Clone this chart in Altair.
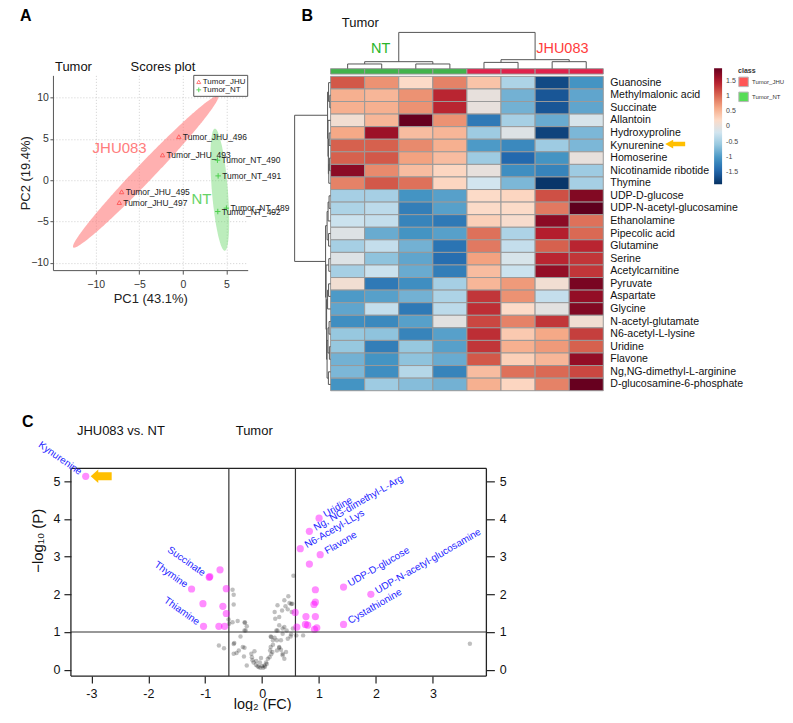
import math
import altair as alt
import pandas as pd

FONT = "Liberation Sans"

# ======================= Panel A : PCA scores plot =======================
pca_sample = ["Tumor_JHU_496", "Tumor_JHU_493", "Tumor_JHU_495", "Tumor_JHU_497",
              "Tumor_NT_490", "Tumor_NT_491", "Tumor_NT_489", "Tumor_NT_492"]
pca_group = ["Tumor_JHU"] * 4 + ["Tumor_NT"] * 4
pca_pc1 = [-0.46, -2.33, -7.02, -7.29, 3.97, 4.05, 5.00, 4.01]
pca_pc2 = [5.27, 3.06, -1.41, -2.71, 2.42, 0.52, -3.39, -3.80]
# confidence ellipses: ends of the major axis (data units) and half minor axis (px)
ell_group = ["Tumor_JHU", "Tumor_NT"]
ell_tip_a = [(-12.57, -8.15), (4.81, -8.55)]
ell_tip_b = [(4.04, 10.19), (3.67, 6.24)]
ell_half_minor = [9.0, 8.0]

# ======================= Panel B : heatmap =======================
metabolites = ["Guanosine", "Methylmalonic acid", "Succinate", "Allantoin", "Hydroxyproline",
               "Kynurenine", "Homoserine", "Nicotinamide ribotide", "Thymine", "UDP-D-glucose",
               "UDP-N-acetyl-glucosamine", "Ethanolamine", "Pipecolic acid", "Glutamine", "Serine",
               "Acetylcarnitine", "Pyruvate", "Aspartate", "Glycine", "N-acetyl-glutamate",
               "N6-acetyl-L-lysine", "Uridine", "Flavone", "Ng,NG-dimethyl-L-arginine",
               "D-glucosamine-6-phosphate"]
heat_values = [
    [1.10, 0.75, 0.20, 0.85, 0.40, -0.45, -1.70, -1.05],
    [0.55, 0.50, 0.75, 1.40, 0.00, -0.80, -1.60, -0.90],
    [0.55, 0.55, 0.75, 1.40, 0.00, -0.80, -1.60, -0.90],
    [0.10, 0.50, 1.90, 0.75, -1.30, -0.50, -0.85, -0.15],
    [0.60, 1.60, 0.45, 0.50, -0.55, -0.10, -1.75, -0.75],
    [1.05, 1.05, 0.80, 0.55, -1.00, -1.15, -0.55, -0.75],
    [1.05, 1.10, 0.65, 0.45, -0.55, -1.45, -1.05, 0.00],
    [1.70, 0.80, 0.45, 0.25, 0.00, -1.10, -1.20, -0.55],
    [0.85, 1.10, 0.95, 0.25, -0.20, -0.75, -1.85, -0.50],
    [-0.50, -0.50, -1.05, -0.95, 0.20, 0.25, 1.15, 1.75],
    [-0.45, -0.35, -1.25, -0.95, 0.20, 0.20, 0.90, 1.95],
    [-0.25, -0.30, -1.20, -1.30, 0.30, 0.15, 1.70, 0.95],
    [-0.10, -0.85, -1.05, -0.95, 0.95, -0.45, 1.45, 1.00],
    [-0.50, -0.30, -0.80, -1.35, 0.90, -0.30, 1.05, 1.40],
    [-0.10, -0.65, -0.90, -1.40, 0.65, -0.15, 1.40, 1.30],
    [-0.50, -0.25, -0.85, -1.25, 0.45, -0.25, 1.65, 1.30],
    [0.10, -1.30, -1.10, -0.50, 0.50, 0.70, 0.10, 1.80],
    [-1.00, -0.95, -0.80, -0.45, 1.30, 0.75, -0.30, 1.65],
    [-0.90, -0.30, -1.30, -0.35, 1.35, 0.20, -0.05, 1.75],
    [-1.10, -1.15, -0.95, -0.05, 1.20, 0.85, 1.30, 0.10],
    [-0.60, -0.65, -1.20, -0.95, 1.35, 0.35, 0.60, 1.25],
    [-0.60, -1.25, -0.60, -0.95, 1.30, 0.55, 0.70, 1.05],
    [-0.80, -1.05, -0.65, -0.85, 1.10, 0.30, 0.50, 1.65],
    [-0.75, -1.10, -0.40, -1.20, 0.45, 0.95, 1.00, 1.20],
    [-1.05, -0.55, -0.70, -0.80, 0.55, 0.25, 0.85, 1.90],
]
sample_class = ["Tumor_NT"] * 4 + ["Tumor_JHU"] * 4
# dendrograms: (merge height, left, right); leaves are row / column indices
row_tree = (36.0,
            (3.0, (2.0, 0, (0.8, 1, 2)),
                  (2.6, 3, (2.2, (1.4, 4, 5), (1.8, (1.2, 6, 7), 8)))),
            (5.0, (3.5, (2.5, (1.5, 9, 10), 11), (2.0, 12, 13)),
                  (4.5, (1.8, 14, 15),
                        (4.0, (3.0, (2.0, 16, 17), 18),
                              (3.5, (2.6, (1.5, 19, 20), (1.2, 21, 22)), (2.2, 23, 24))))))
col_tree = (36.3, (7.0, (4.7, 0, 1), (4.7, 2, 3)), (9.0, (6.3, 4, 5), (7.0, 6, 7)))

# ======================= Panel C : volcano plot =======================
sig_x = [-3.10, -0.93, -0.92, -0.74, -1.24, -0.63, -1.04, -0.69, -0.63, -1.03, -0.76, -0.66,
         1.00, 0.83, 0.67, 1.02, 0.83, 1.43, 1.91, 1.43, 0.935, 0.935, 0.91, 0.935, 0.77,
         0.58, 0.61, 0.76, 0.80, 0.92, 0.96]
sig_y = [5.13, 2.45, 2.47, 2.65, 2.14, 2.15, 1.75, 1.68, 1.49, 1.15, 1.15, 1.15,
         4.02, 3.67, 3.21, 3.05, 2.80, 2.19, 2.00, 1.20, 2.12, 1.79, 1.73, 1.41, 1.41,
         1.52, 1.13, 1.20, 1.18, 1.07, 1.11]
sig_label = ["Kynurenine", "Succinate", "", "", "Thymine", "", "", "", "", "Thiamine", "", "",
             "Uridine", "Ng, NG-dimethyl-L-Arg", "N6-Acetyl-LLys", "Flavone", "",
             "UDP-D-glucose", "UDP-N-acetyl-glucosamine", "Cystathionine",
             "", "", "", "", "", "", "", "", "", "", ""]
ns_x = [-0.52, -0.50, -0.50, -0.59, -0.58, -0.43, -0.31, -0.27, -0.31, -0.38, -0.76, -0.67,
        -0.50, -0.50, -0.41, -0.34, -0.32, -0.27, -0.19, -0.18, -0.17, -0.15, -0.11, -0.06,
        -0.03, 0.00, 0.02, 0.04, -0.04, 0.07, -0.02, 0.10, 0.13, 0.16, 0.18, 0.15, 0.19,
        0.15, 0.22, 0.26, 0.30, 0.33, 0.26, 0.36, 0.39, 0.42, 0.45, 0.51, 0.27, 0.36, 0.39,
        0.30, 0.23, 0.30, 0.22, 0.27, 0.35, 0.41, 0.45, 0.48, 0.51, 0.39, 0.55, 0.46, 0.60,
        0.72, 3.65, -0.49, -0.45, -0.31, -0.135, -0.105, -0.52, -0.30, -0.29, 0.53, 0.52,
        0.43, 0.36, 0.25, 0.19, 0.14, 0.16, 0.30, 0.36, 0.33, 0.50, 0.54, 0.08, 0.05, -0.08]
ns_y = [2.12, 1.99, 1.73, 1.33, 1.22, 1.29, 1.25, 1.15, 1.04, 0.88, 0.64, 0.57,
        0.68, 0.42, 0.51, 0.60, 0.35, 0.11, 0.42, 0.33, 0.25, 0.19, 0.13, 0.07,
        0.05, 0.10, 0.05, 0.11, 0.19, 0.19, 0.31, 0.29, 0.33, 0.41, 0.47, 0.60, 0.66,
        0.88, 0.85, 0.78, 0.58, 0.53, 0.51, 0.38, 0.29, 0.47, 0.82, 0.94, 1.04, 1.09, 1.13,
        1.18, 1.35, 1.40, 1.53, 1.71, 1.57, 1.68, 1.60, 1.77, 1.74, 1.84, 2.49, 1.95, 0.91,
        0.91, 0.69, 0.71, 0.44, 0.58, 0.49, 0.23, 1.26, 1.25, 1.04, 1.75, 1.53,
        1.04, 0.95, 1.04, 0.78, 0.51, 0.87, 0.60, 0.42, 0.78, 0.88, 1.09, 0.15, 0.08, 0.09]
fc_cut = math.log2(1.5)
p_cut = 1.0

# ======================= layout constants =======================
A_W, A_H = 195, 195
A_X = [-14.9, 7.44]
A_Y = [-10.9, 12.7]
COL_PX, ROW_PX = 34.13, 12.59
B_W, B_H = 476, 316
B_X = [-36 / COL_PX, -36 / COL_PX + B_W / COL_PX]
B_Y = [-1 / ROW_PX, -1 / ROW_PX + B_H / ROW_PX]
C_BOX = [-3.36, 3.94]                 # x-range of the framed volcano box
C_BOX_W, C_H = 416, 208
C_INSET = 18                          # view starts this many px left of the box
C_PXU = C_BOX_W / (C_BOX[1] - C_BOX[0])
C_W = C_BOX_W + C_INSET
C_X = [C_BOX[0] - C_INSET / C_PXU, C_BOX[1]]
C_Y = [-0.17, 5.34]

MINUS_TO_HYPHEN = "replace(datum.label, '\u2212', '-')"
one = pd.DataFrame({"a": [0]})

# ---------------------------------------------------------------- Panel A
def ellipse_band(tip1, tip2, half_minor, sx, sy, n=160):
    x1, y1 = tip1[0] * sx, tip1[1] * sy
    x2, y2 = tip2[0] * sx, tip2[1] * sy
    cx, cy = (x1 + x2) / 2, (y1 + y2) / 2
    a = math.hypot(x2 - x1, y2 - y1) / 2
    b = half_minor
    th = math.atan2(y2 - y1, x2 - x1)
    c, s = math.cos(th), math.sin(th)
    ext = math.sqrt((a * c) ** 2 + (b * s) ** 2)
    qa = s * s / a ** 2 + c * c / b ** 2
    out = []
    for k in range(n + 1):
        dx = -math.cos(math.pi * k / n) * ext
        qb = 2 * dx * c * s * (1 / a ** 2 - 1 / b ** 2)
        qc = dx * dx * (c * c / a ** 2 + s * s / b ** 2) - 1
        r = math.sqrt(max(qb * qb - 4 * qa * qc, 0.0))
        out.append(((cx + dx) / sx, (cy + (-qb - r) / (2 * qa)) / sy, (cy + (-qb + r) / (2 * qa)) / sy))
    return out

SX = A_W / (A_X[1] - A_X[0])
SY = A_H / (A_Y[1] - A_Y[0])
ell_rows = []
for g, ta, tb, hm in zip(ell_group, ell_tip_a, ell_tip_b, ell_half_minor):
    for x, lo, hi in ellipse_band(ta, tb, hm, SX, SY):
        ell_rows.append({"group": g, "x": x, "lo": lo, "hi": hi})
ell_df = pd.DataFrame(ell_rows)
pca_df = pd.DataFrame({"sample": pca_sample, "group": pca_group, "pc1": pca_pc1, "pc2": pca_pc2})

ax_a_x = alt.Axis(values=[-10, -5, 0, 5], title="PC1 (43.1%)", grid=True, gridDash=[1, 2],
                  gridColor="#cfcfcf", domainColor="#555", tickColor="#555", tickSize=4,
                  labelFontSize=10.5, labelColor="#333", labelPadding=5, titleFontSize=13,
                  titleFontWeight="normal", titleColor="#222", titlePadding=3)
ax_a_y = alt.Axis(values=[-10, -5, 0, 5, 10], title="PC2 (19.4%)", grid=True, gridDash=[1, 2],
                  gridColor="#cfcfcf", domainColor="#555", tickColor="#555", tickSize=3,
                  labelFontSize=10.5, labelColor="#333", labelPadding=1.5, titleFontSize=13,
                  titleFontWeight="normal", titleColor="#222", titleX=-20, titleBaseline="bottom")
xa = alt.Scale(domain=A_X, nice=False, zero=False)
ya = alt.Scale(domain=A_Y, nice=False, zero=False)


def XA(f):
    return alt.X(f, scale=xa, axis=ax_a_x)


def YA(f):
    return alt.Y(f, scale=ya, axis=ax_a_y)


ell_jhu = alt.Chart(ell_df).transform_filter(alt.datum.group == "Tumor_JHU").mark_area(
    color="#ff6f6f", opacity=0.55).encode(x=XA("x:Q"), y=YA("lo:Q"), y2="hi:Q")
ell_nt = alt.Chart(ell_df).transform_filter(alt.datum.group == "Tumor_NT").mark_area(
    color="#5fd35f", opacity=0.42).encode(x=XA("x:Q"), y=YA("lo:Q"), y2="hi:Q")
PLUS = "M -1 0 L 1 0 M 0 -1 L 0 1"
JHU_RED, NT_GREEN = "#ff3b3b", "#1fc41f"
pts_jhu = alt.Chart(pca_df).transform_filter(alt.datum.group == "Tumor_JHU").mark_point(
    shape="triangle-up", filled=False, strokeWidth=1, size=20, color=JHU_RED).encode(
    x=XA("pc1:Q"), y=YA("pc2:Q"))
pts_nt = alt.Chart(pca_df).transform_filter(alt.datum.group == "Tumor_NT").mark_point(
    shape=PLUS, filled=False, strokeWidth=1, size=30, color=NT_GREEN).encode(
    x=XA("pc1:Q"), y=YA("pc2:Q"))
lbl_a = alt.Chart(pca_df).mark_text(align="left", baseline="middle", dx=4, fontSize=8.5, color="#222").encode(
    x=XA("pc1:Q"), y=YA("pc2:Q"), text="sample:N")
grp_jhu = alt.Chart(pd.DataFrame({"t": ["JHU083"]})).mark_text(
    align="left", baseline="middle", fontSize=15, color="#ff7d7d").encode(
    x=alt.datum(-10.35, scale=xa, axis=ax_a_x), y=alt.datum(3.85, scale=ya, axis=ax_a_y), text="t:N")
grp_nt = alt.Chart(pd.DataFrame({"t": ["NT"]})).mark_text(
    align="left", baseline="middle", fontSize=15, color="#66d366").encode(
    x=alt.datum(1.0, scale=xa, axis=ax_a_x), y=alt.datum(-2.3, scale=ya, axis=ax_a_y), text="t:N")
# legend box (top-right corner of the plot)
leg_box = alt.Chart(one).mark_rect(fill="white", stroke="#555", strokeWidth=1).encode(
    x=alt.value(141), x2=alt.value(195), y=alt.value(0), y2=alt.value(21))
leg_s1 = alt.Chart(one).mark_point(shape="triangle-up", filled=False, strokeWidth=1, size=16,
                                   color=JHU_RED).encode(x=alt.value(146), y=alt.value(6.5))
leg_s2 = alt.Chart(one).mark_point(shape=PLUS, filled=False, strokeWidth=1, size=22,
                                   color=NT_GREEN).encode(x=alt.value(146), y=alt.value(14.5))
leg_t1 = alt.Chart(one).mark_text(text="Tumor_JHU", align="left", baseline="middle", fontSize=8,
                                  color="#222").encode(x=alt.value(150), y=alt.value(6.5))
leg_t2 = alt.Chart(one).mark_text(text="Tumor_NT", align="left", baseline="middle", fontSize=8,
                                  color="#222").encode(x=alt.value(150), y=alt.value(14.5))
a_letter = alt.Chart(one).mark_text(text="A", fontSize=16, fontWeight="bold", align="left", baseline="top",
                                    color="black").encode(x=alt.value(-33), y=alt.value(-67))
a_t1 = alt.Chart(one).mark_text(text="Tumor", fontSize=13, align="left", baseline="top",
                                color="#111").encode(x=alt.value(2), y=alt.value(-14))
a_t2 = alt.Chart(one).mark_text(text="Scores plot", fontSize=13, align="left", baseline="top",
                                color="#111").encode(x=alt.value(77.7), y=alt.value(-14))
A_plot = alt.layer(ell_jhu, ell_nt, pts_jhu, pts_nt, lbl_a, grp_jhu, grp_nt,
                   leg_box, leg_s1, leg_s2, leg_t1, leg_t2, a_letter, a_t1, a_t2).properties(
    width=A_W, height=A_H)

# ---------------------------------------------------------------- Panel B
xb = alt.Scale(domain=B_X, nice=False, zero=False)
yb = alt.Scale(domain=B_Y, nice=False, zero=False, reverse=True)

cells = []
for r, name in enumerate(metabolites):
    for c, v in enumerate(heat_values[r]):
        cells.append({"metabolite": name, "r0": r, "r1": r + 1, "c0": c, "c1": c + 1, "value": v})
cell_df = pd.DataFrame(cells)
rdbu = ["#053061", "#2166ac", "#4393c3", "#92c5de", "#d1e5f0",
        "#fddbc7", "#f4a582", "#d6604d", "#b2182b", "#67001f"]
stops = [-1.9 + 3.8 * i / 9 for i in range(10)]

heat = alt.Chart(cell_df).mark_rect(stroke="#9a9a9a", strokeWidth=1).encode(
    x=alt.X("c0:Q", scale=xb, axis=None), x2="c1:Q",
    y=alt.Y("r0:Q", scale=yb, axis=None), y2="r1:Q",
    color=alt.Color("value:Q", scale=alt.Scale(domain=stops, range=rdbu, interpolate="rgb"),
                    legend=alt.Legend(title=None, orient="none", legendX=420, legendY=-7,
                                      direction="vertical", gradientLength=116,
                                      gradientThickness=8, gradientStrokeWidth=0,
                                      values=[-1.5, -1, -0.5, 0, 0.5, 1, 1.5],
                                      labelExpr="replace(format(datum.value, '.1~f'), '\u2212', '-')",
                                      labelFontSize=7, labelColor="#444", labelOffset=4, padding=0,
                                      labelOverlap=False)))

BAR_TOP = -(2.3 + 5.4) / ROW_PX
BAR_BOT = -2.3 / ROW_PX
class_df = pd.DataFrame({"col": list(range(8)), "class": sample_class})
class_df["c0"] = class_df["col"]
class_df["c1"] = class_df["col"] + 1
class_df["b0"] = BAR_TOP
class_df["b1"] = BAR_BOT
annot = alt.Chart(class_df).mark_rect(stroke="#9a9a9a", strokeWidth=1).encode(
    x=alt.X("c0:Q", scale=xb, axis=None), x2="c1:Q",
    y=alt.Y("b0:Q", scale=yb, axis=None), y2="b1:Q",
    fill=alt.Fill("class:N", scale=alt.Scale(domain=["Tumor_NT", "Tumor_JHU"], range=["#41b34b", "#e0224c"]),
                  legend=None))

dummy_df = pd.DataFrame({"class": ["Tumor_JHU", "Tumor_NT"], "r": [0.5, 1.5], "c": [0.5, 0.5]})
legend_dummy = alt.Chart(dummy_df).mark_square(size=8).encode(
    x=alt.X("c:Q", scale=xb, axis=None), y=alt.Y("r:Q", scale=yb, axis=None),
    color=alt.Color("class:N", scale=alt.Scale(domain=["Tumor_JHU", "Tumor_NT"], range=["#ff1010", "#10d010"]),
                    legend=alt.Legend(title="class", orient="none", legendX=444, legendY=-8,
                                      titleFontSize=7, titleFontWeight="bold", titleColor="#333",
                                      titlePadding=2, labelFontSize=6, labelColor="#333",
                                      symbolType="square", symbolSize=90, symbolStrokeColor="#999",
                                      symbolStrokeWidth=1, rowPadding=0, padding=0, labelOffset=3)))


def dendro(node, pos_of, segs):
    if isinstance(node, int):
        return pos_of(node), 0.0
    h, left, right = node
    pl, hl = dendro(left, pos_of, segs)
    pr, hr = dendro(right, pos_of, segs)
    segs.append((pl, hl, pl, h))
    segs.append((pr, hr, pr, h))
    segs.append((pl, h, pr, h))
    return (pl + pr) / 2, h


rsegs = []
dendro(row_tree, lambda i: i + 0.5, rsegs)
row_seg_df = pd.DataFrame([{"x": -h1 / COL_PX, "y": p1, "x2": -h2 / COL_PX, "y2": p2}
                           for p1, h1, p2, h2 in rsegs])
csegs = []
dendro(col_tree, lambda j: j + 0.5, csegs)
col_seg_df = pd.DataFrame([{"x": p1, "y": BAR_TOP - h1 / ROW_PX, "x2": p2, "y2": BAR_TOP - h2 / ROW_PX}
                           for p1, h1, p2, h2 in csegs])
row_dend = alt.Chart(row_seg_df).mark_rule(color="#555", strokeWidth=1).encode(
    x=alt.X("x:Q", scale=xb, axis=None), x2="x2:Q", y=alt.Y("y:Q", scale=yb, axis=None), y2="y2:Q")
col_dend = alt.Chart(col_seg_df).mark_rule(color="#555", strokeWidth=1).encode(
    x=alt.X("x:Q", scale=xb, axis=None), x2="x2:Q", y=alt.Y("y:Q", scale=yb, axis=None), y2="y2:Q")

lab_df = pd.DataFrame({"metabolite": metabolites, "pos": [i + 0.5 for i in range(len(metabolites))],
                       "edge": [8] * len(metabolites)})
row_lab = alt.Chart(lab_df).mark_text(align="left", baseline="middle", dx=7, fontSize=10.6, color="#111").encode(
    x=alt.X("edge:Q", scale=xb, axis=None), y=alt.Y("pos:Q", scale=yb, axis=None), text="metabolite:N")

ARROW_B = "M -1 0 L -0.2 -0.44 L -0.2 -0.22 L 1 -0.22 L 1 0.22 L -0.2 0.22 L -0.2 0.44 Z"
arrow_b = alt.Chart(lab_df).transform_filter(alt.datum.metabolite == "Kynurenine").mark_point(
    shape=ARROW_B, filled=True, color="#ffbf00", opacity=1, size=400, xOffset=72, yOffset=-1.5).encode(
    x=alt.X("edge:Q", scale=xb, axis=None), y=alt.Y("pos:Q", scale=yb, axis=None))

b_ann_df = pd.DataFrame({"t": ["Tumor"], "bx": [0.33], "by": [-4.7]})
b_tumor = alt.Chart(b_ann_df).mark_text(fontSize=13, align="left", baseline="top", color="#111").encode(
    x=alt.X("bx:Q", scale=xb, axis=None), y=alt.Y("by:Q", scale=yb, axis=None), text="t:N")
b_grp_df = pd.DataFrame({"t": ["NT", "JHU083"], "bx": [1.47, 6.8], "by": [-2.2, -2.2]})
b_grp = alt.Chart(b_grp_df).mark_text(fontSize=14.5, align="center", baseline="middle").encode(
    x=alt.X("bx:Q", scale=xb, axis=None), y=alt.Y("by:Q", scale=yb, axis=None), text="t:N",
    color=alt.Color("t:N", scale=alt.Scale(domain=["NT", "JHU083"], range=["#2ab52a", "#ff3c3c"]), legend=None))
b_letter = alt.Chart(one).mark_text(text="B", fontSize=16, fontWeight="bold", align="left", baseline="top",
                                    color="black").encode(x=alt.value(7), y=alt.value(-67))

B_plot = alt.layer(legend_dummy, heat, annot, row_dend, col_dend, row_lab, arrow_b,
                   b_tumor, b_grp, b_letter).resolve_scale(color="independent").properties(
    width=B_W, height=B_H)

# ---------------------------------------------------------------- Panel C
sig_df = pd.DataFrame({"fc": sig_x, "p": sig_y, "name": sig_label})
ns_df = pd.DataFrame({"fc": ns_x, "p": ns_y})

ax_c_x = alt.Axis(values=[-3, -2, -1, 0, 1, 2, 3], grid=False, domain=False, tickSize=7, tickColor="#222",
                  tickWidth=1.2, labelFontSize=12.5, labelColor="#111", labelPadding=4,
                  labelExpr=MINUS_TO_HYPHEN, title="log\u2082 (FC)", titleFontSize=14.5,
                  titleFontWeight="normal", titleColor="#111",
                  titleX=C_INSET + (0 - C_BOX[0]) * C_PXU, titleY=21, titleBaseline="top")
ax_c_yl = alt.Axis(values=[0, 1, 2, 3, 4, 5], grid=False, domain=False, tickSize=7, tickColor="#222",
                   tickWidth=1.2, labelFontSize=12.5, labelColor="#111", labelPadding=4, offset=-C_INSET,
                   title="\u2212log\u2081\u2080 (P)", titleFontSize=15, titleFontWeight="normal",
                   titleColor="#111", titleX=-25, titleY=72, titleBaseline="bottom")
ax_c_yr = alt.Axis(values=[0, 1, 2, 3, 4, 5], grid=False, domain=False, tickSize=8, tickColor="#222",
                   tickWidth=1.2, labelFontSize=12.5, labelColor="#111", labelPadding=5,
                   orient="right", title=None)
xc = alt.Scale(domain=C_X, nice=False, zero=False)


def XC(f):
    return alt.X(f, scale=xc, axis=ax_c_x)


def YC(f, ax=ax_c_yl):
    return alt.Y(f, scale=alt.Scale(domain=C_Y, nice=False, zero=False), axis=ax)


FRAME = "#222"
frame_v = alt.Chart(pd.DataFrame({"edge": C_BOX})).mark_rule(color=FRAME, strokeWidth=1.3).encode(
    x=XC("edge:Q"))
frame_h = alt.Chart(pd.DataFrame({"x0": [C_BOX[0]], "x1": [C_BOX[1]]})).mark_rule(
    color=FRAME, strokeWidth=1.3).encode(x=XC("x0:Q"), x2="x1:Q", y=alt.value(0))
frame_b = alt.Chart(pd.DataFrame({"x0": [C_BOX[0]], "x1": [C_BOX[1]]})).mark_rule(
    color=FRAME, strokeWidth=1.3).encode(x=XC("x0:Q"), x2="x1:Q", y=alt.value(C_H))
vlines = alt.Chart(pd.DataFrame({"cut": [-fc_cut, fc_cut]})).mark_rule(color="#333", strokeWidth=1.2).encode(
    x=XC("cut:Q"))
grey = alt.Chart(ns_df).mark_circle(size=20, color="black", opacity=0.25).encode(x=XC("fc:Q"), y=YC("p:Q"))
pink = alt.Chart(sig_df).mark_circle(size=52, color="#ff00ff", opacity=0.45).encode(x=XC("fc:Q"), y=YC("p:Q"))
lab_left = alt.Chart(sig_df).transform_filter("datum.name != '' && datum.fc < 0").mark_text(
    align="right", baseline="middle", angle=35, dx=-6, fontSize=10, color="#2424ff").encode(
    x=XC("fc:Q"), y=YC("p:Q"), text="name:N")
lab_right = alt.Chart(sig_df).transform_filter("datum.name != '' && datum.fc > 0").mark_text(
    align="left", baseline="middle", angle=330, dx=6, fontSize=10, color="#2424ff").encode(
    x=XC("fc:Q"), y=YC("p:Q"), text="name:N")
ARROW_C = "M -1 0 L -0.28 -0.64 L -0.28 -0.38 L 1 -0.38 L 1 0.38 L -0.28 0.38 L -0.28 0.64 Z"
arrow_c = alt.Chart(sig_df).transform_filter("datum.name == 'Kynurenine'").mark_point(
    shape=ARROW_C, filled=True, color="#ffbf00", opacity=1, size=441, xOffset=15.5).encode(
    x=XC("fc:Q"), y=YC("p:Q"))
c_t1 = alt.Chart(one).mark_text(text="JHU083 vs. NT", fontSize=13, align="left", baseline="top",
                                color="#111").encode(x=alt.value(24), y=alt.value(-43))
c_t2 = alt.Chart(one).mark_text(text="Tumor", fontSize=13, align="left", baseline="top",
                                color="#111").encode(x=alt.value(183), y=alt.value(-43))
c_letter = alt.Chart(one).mark_text(text="C", fontSize=16, fontWeight="bold", align="left", baseline="top",
                                    color="black").encode(x=alt.value(-31), y=alt.value(-54))

C_main = alt.layer(frame_v, frame_h, frame_b, vlines, grey, pink, lab_left, lab_right, arrow_c,
                   c_t1, c_t2, c_letter)
hline = alt.Chart(pd.DataFrame({"cut": [p_cut], "x0": [C_BOX[0]], "x1": [C_BOX[1]]})).mark_rule(
    color="#333", strokeWidth=1.2).encode(x=XC("x0:Q"), x2="x1:Q", y=YC("cut:Q", ax_c_yr))
C_plot = alt.layer(C_main, hline).resolve_scale(y="independent").properties(width=C_W, height=C_H)

# ---------------------------------------------------------------- assemble
top_row = alt.hconcat(A_plot, B_plot, spacing=47, bounds="flush").resolve_scale(color="independent")
chart = alt.vconcat(top_row, C_plot, spacing=22.5).properties(
    padding={"left": 12, "top": 0, "right": 0, "bottom": 0}).configure(font=FONT).configure_view(stroke=None)

chart.save("out.html", embed_options={"renderer": "svg", "actions": False})
